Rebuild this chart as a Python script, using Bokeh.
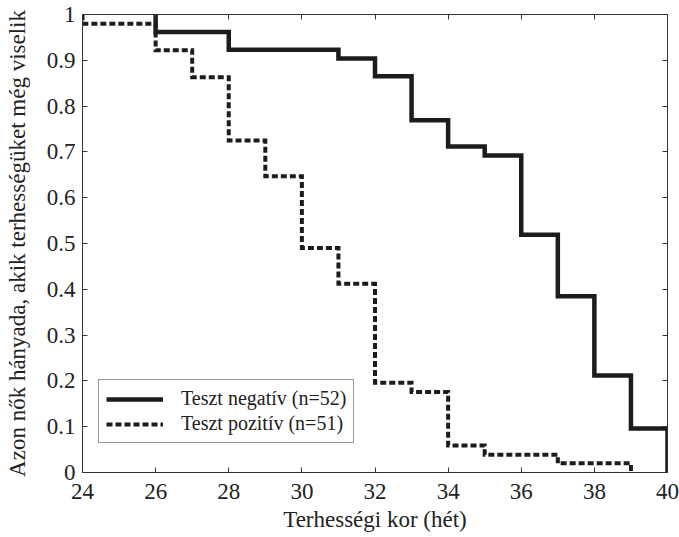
from bokeh.plotting import figure
from bokeh.models import (Range1d, LinearAxis, FixedTicker, CustomJSTickFormatter,
                          Legend, LegendItem)
from bokeh.embed import file_html
from bokeh.resources import INLINE

# ---- data ----
neg_label = "Teszt negatív (n=52)"
neg_start = (26, 1.0)
neg_times = [26, 28, 31, 32, 33, 34, 35, 36, 37, 38, 39, 40]
neg_surv = [0.962, 0.923, 0.904, 0.865, 0.769, 0.712, 0.692, 0.519, 0.385, 0.212, 0.096, 0.0]

pos_label = "Teszt pozitív (n=51)"
pos_start = (24, 1.0)
pos_times = [24, 26, 27, 28, 29, 30, 31, 32, 33, 34, 35, 37, 39]
pos_surv = [0.980, 0.922, 0.863, 0.725, 0.647, 0.490, 0.412, 0.196, 0.176, 0.059, 0.039, 0.020, 0.0]

x_ticks = [24, 26, 28, 30, 32, 34, 36, 38, 40]
y_ticks = [0, 0.1, 0.2, 0.3, 0.4, 0.5, 0.6, 0.7, 0.8, 0.9, 1.0]
x_title = "Terhességi kor (hét)"
y_title = "Azon nők hányada, akik terhességüket még viselik"


def step_path(start, times, surv):
    xs, ys = [start[0]], [start[1]]
    prev = start[1]
    for t, s in zip(times, surv):
        xs += [t, t]
        ys += [prev, s]
        prev = s
    return xs, ys


FONT = "Liberation Serif"
INK = "#1c1c1c"

p = figure(width=679, height=537, x_range=Range1d(24, 40), y_range=Range1d(0, 1),
           output_backend="svg", toolbar_location=None,
           min_border_left=82, min_border_right=12, min_border_top=14, min_border_bottom=65)
p.grid.visible = False
p.outline_line_color = "#333333"
p.outline_line_width = 1
p.background_fill_color = "white"
p.border_fill_color = "white"

nx, ny = step_path(neg_start, neg_times, neg_surv)
px, py = step_path(pos_start, pos_times, pos_surv)

r_neg = p.line(nx, ny, line_color=INK, line_width=4.5, line_join="miter", line_cap="butt")
r_pos = p.line(px, py, line_color=INK, line_width=4, line_dash="6 3",
               line_join="miter", line_cap="butt")

fmt = CustomJSTickFormatter(code="return (Math.round(tick*10)/10).toString();")
blank = CustomJSTickFormatter(code="return '';")

xa = p.xaxis[0]
xa.ticker = FixedTicker(ticks=x_ticks)
xa.axis_label = x_title
ya = p.yaxis[0]
ya.ticker = FixedTicker(ticks=y_ticks)
ya.formatter = fmt
ya.axis_label = y_title

for ax in (xa, ya):
    ax.major_tick_in = 5
    ax.major_tick_out = 0
    ax.minor_tick_line_color = None
    ax.axis_line_color = "#333333"
    ax.major_tick_line_color = "#333333"
    ax.major_label_text_font = FONT
    ax.major_label_text_font_size = "23px"
    ax.major_label_text_color = "#222222"
    ax.axis_label_text_font = FONT
    ax.axis_label_text_font_size = "23px"
    ax.axis_label_text_font_style = "normal"
    ax.axis_label_text_color = "#222222"

xa.major_label_standoff = 11
xa.axis_label_standoff = 5
ya.major_label_standoff = 7
ya.axis_label_standoff = 14

top = LinearAxis(ticker=FixedTicker(ticks=x_ticks), formatter=blank)
right = LinearAxis(ticker=FixedTicker(ticks=y_ticks), formatter=blank)
for ax in (top, right):
    ax.major_tick_in = 5
    ax.major_tick_out = 0
    ax.minor_tick_line_color = None
    ax.axis_line_color = "#333333"
    ax.major_tick_line_color = "#333333"
    ax.major_label_text_font_size = "0px"
    ax.major_label_standoff = 0
p.add_layout(top, "above")
p.add_layout(right, "right")

legend = Legend(items=[LegendItem(label=neg_label, renderers=[r_neg]),
                       LegendItem(label=pos_label, renderers=[r_pos])],
                location=(16, 29))
legend.label_text_font = FONT
legend.label_text_font_size = "20px"
legend.label_text_color = "#222222"
legend.glyph_width = 57
legend.glyph_height = 20
legend.label_height = 20
legend.label_standoff = 18
legend.spacing = 2
legend.padding = 7
legend.margin = 0
legend.border_line_color = "#333333"
legend.border_line_width = 1
legend.background_fill_alpha = 1
p.add_layout(legend, "center")

open("out.html", "w").write(file_html(p, INLINE))
